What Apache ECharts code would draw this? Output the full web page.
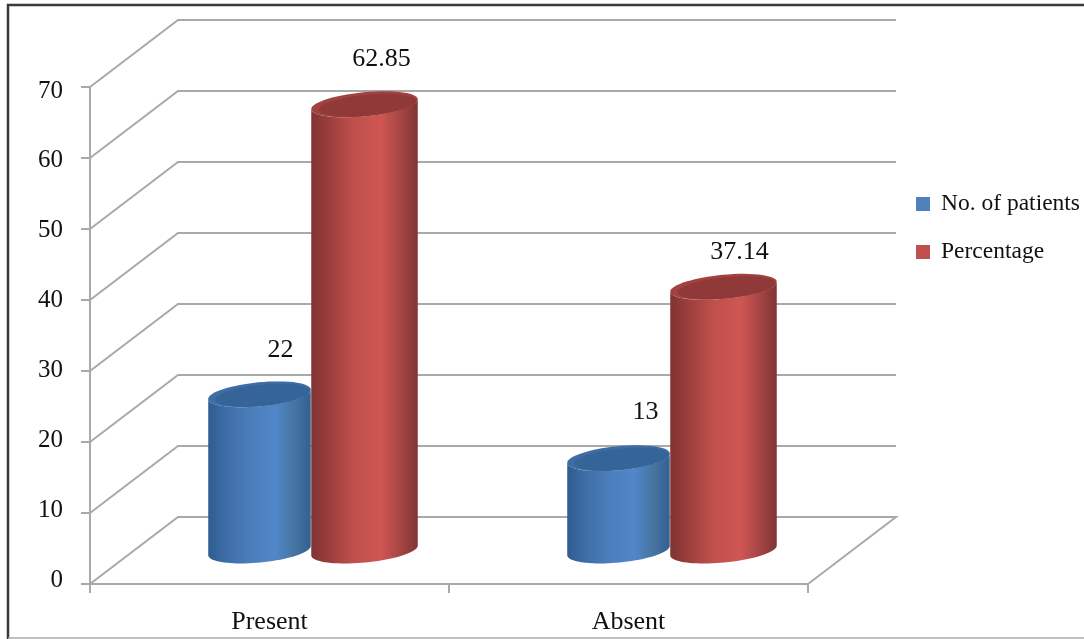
<!DOCTYPE html>
<html>
<head>
<meta charset="utf-8">
<style>html,body{margin:0;padding:0;background:#fff}#chart{width:1084px;height:639px}</style>
<script src="https://cdn.jsdelivr.net/npm/echarts@6/dist/echarts.min.js"></script>
</head>
<body>
<div id="chart"></div>
<script>
const categories = ['Present', 'Absent'];
const patients = [22, 13];
const percentage = [62.85, 37.14];
const yTicks = [0, 10, 20, 30, 40, 50, 60, 70];

// Oblique projection of the chart box: how far the back wall sits from the front plane.
const DEPTH = { x: 88, y: -67 };
const TILT = -5.5 * Math.PI / 180;
const RY = 12;
const FONT = '"Liberation Serif", "Times New Roman", serif';
const WALL = '#a9a9a9';

const labelShift = {
  'No. of patients': [[21, -44], [27, -46]],
  'Percentage': [[17, -45], [16, -35]]
};

function ellipsePoints(cx, cy, rx, ry, from, to, n) {
  const pts = [];
  const c = Math.cos(TILT), s = Math.sin(TILT);
  for (let i = 0; i <= n; i++) {
    const t = from + (to - from) * i / n;
    const ex = rx * Math.cos(t), ey = ry * Math.sin(t);
    pts.push([cx + ex * c - ey * s, cy + ex * s + ey * c]);
  }
  return pts;
}

function hGradient(stops) {
  return new echarts.graphic.LinearGradient(0, 0, 1, 0,
    stops.map(s => ({ offset: s[0], color: s[1] })));
}

// Gridlines running along the left wall, then across the back wall.
function renderWall(params, api) {
  const rect = params.coordSys;
  const y = api.coord([0, api.value(0)])[1];
  const x0 = rect.x;
  const points = [[x0, y], [x0 + DEPTH.x, y + DEPTH.y], [x0 + rect.width + DEPTH.x, y + DEPTH.y]];
  if (api.value(0) === 0) points.push([x0 + rect.width, y]);
  return {
    type: 'polyline',
    shape: { points },
    style: { stroke: WALL, lineWidth: 2, fill: null }
  };
}

// One barrel: front half of the base ellipse joined to the top ellipse, capped by the top face.
function cylinderRenderer(name, look) {
  return function (params, api) {
    const top = api.coord([api.value(0), api.value(1)]);
    const base = api.coord([api.value(0), 0]);
    const cx = top[0] + DEPTH.x / 2 - 2 + look.offset;
    const topY = top[1] + DEPTH.y / 2;
    const baseY = base[1] + DEPTH.y / 2;
    const shift = labelShift[name][params.dataIndex];
    const outline = ellipsePoints(cx, baseY, look.rx, RY, Math.PI, 0, 40)
      .concat(ellipsePoints(cx, topY, look.rx, RY, 0, Math.PI, 40));
    return {
      type: 'group',
      children: [
        { type: 'polygon', shape: { points: outline },
          style: { fill: hGradient(look.side) } },
        { type: 'polygon', shape: { points: ellipsePoints(cx, topY, look.rx, RY, 0, Math.PI * 2, 60) },
          style: { fill: look.rim } },
        { type: 'polygon', shape: { points: ellipsePoints(cx + 3, topY + 1, look.rx * 0.92, RY * 0.88, 0, Math.PI * 2, 60) },
          style: { fill: look.cap } },
        { type: 'text', x: cx + shift[0], y: topY + shift[1],
          style: { text: String(api.value(1)), font: '26px ' + FONT, fill: '#111', align: 'center', verticalAlign: 'middle' } }
      ]
    };
  };
}

const blueLook = {
  rx: 51.5, offset: -52,
  rim: '#3d6da4', cap: '#346498',
  side: [[0, '#2f5c90'], [0.15, '#3c6ca4'], [0.4, '#4a7dba'], [0.65, '#5187c9'], [0.85, '#44749f'], [1, '#345f92']]
};
const redLook = {
  rx: 53.5, offset: 53,
  rim: '#a24240', cap: '#8f3a38',
  side: [[0, '#803332'], [0.18, '#9c3f3d'], [0.4, '#c0504c'], [0.66, '#cf5653'], [0.86, '#a04341'], [1, '#803534']]
};

const chart = echarts.init(document.getElementById('chart'), null, { renderer: 'canvas' });
chart.setOption({
  animation: false,
  backgroundColor: '#fff',
  textStyle: { fontFamily: FONT },
  grid: [
    { left: 90, top: 87, width: 718, height: 497 },
    // Tick labels sit on a slightly tighter span than the ticks themselves
    { left: 90, top: 91, width: 718, height: 489 }
  ],
  xAxis: [
    {
      type: 'category',
      data: categories,
      axisLine: { lineStyle: { color: WALL, width: 2 } },
      axisTick: { show: true, length: 9, lineStyle: { color: WALL, width: 2 } },
      axisLabel: { color: '#111', fontSize: 26, fontFamily: FONT, margin: 25 },
      splitLine: { show: false }
    },
    { type: 'category', gridIndex: 1, data: categories, show: false }
  ],
  yAxis: [
    {
      type: 'value',
      min: 0,
      max: 70,
      interval: 10,
      axisLine: { show: true, lineStyle: { color: WALL, width: 2 } },
      axisTick: { show: true, length: 9, lineStyle: { color: WALL, width: 2 } },
      axisLabel: { show: false },
      splitLine: { show: false }
    },
    {
      type: 'value',
      gridIndex: 1,
      min: 0,
      max: 70,
      interval: 10,
      axisLine: { show: false },
      axisTick: { show: false },
      axisLabel: { color: '#111', fontSize: 25, fontFamily: FONT, margin: 27 },
      splitLine: { show: false }
    }
  ],
  legend: {
    orient: 'vertical',
    left: 911,
    top: 187,
    itemWidth: 14,
    itemHeight: 14,
    itemGap: 24,
    icon: 'rect',
    textStyle: { color: '#111', fontSize: 23.5, fontFamily: FONT, padding: [0, 0, 0, 6] },
    data: ['No. of patients', 'Percentage']
  },
  graphic: [
    // Frame around the chart
    { type: 'polyline', silent: true, z: 100,
      shape: { points: [[8, 639], [8, 5], [1084, 5]] },
      style: { stroke: '#3a3a3a', lineWidth: 2.5, fill: null } },
    { type: 'line', silent: true, z: 100,
      shape: { x1: 8, y1: 638, x2: 1084, y2: 638 },
      style: { stroke: '#ababab', lineWidth: 1.5 } }
  ],
  series: [
    {
      type: 'custom', name: 'wall', silent: true, clip: false, z: 1,
      coordinateSystem: 'cartesian2d',
      renderItem: renderWall,
      encode: { y: 0 },
      data: yTicks.map(v => [v])
    },
    {
      type: 'custom', name: 'No. of patients', clip: false, z: 2,
      coordinateSystem: 'cartesian2d',
      itemStyle: { color: '#4f81bd' },
      renderItem: cylinderRenderer('No. of patients', blueLook),
      encode: { x: 0, y: 1 },
      data: patients.map((v, i) => [i, v])
    },
    {
      type: 'custom', name: 'Percentage', clip: false, z: 3,
      coordinateSystem: 'cartesian2d',
      itemStyle: { color: '#c0504d' },
      renderItem: cylinderRenderer('Percentage', redLook),
      encode: { x: 0, y: 1 },
      data: percentage.map((v, i) => [i, v])
    }
  ]
});
</script>
</body>
</html>
